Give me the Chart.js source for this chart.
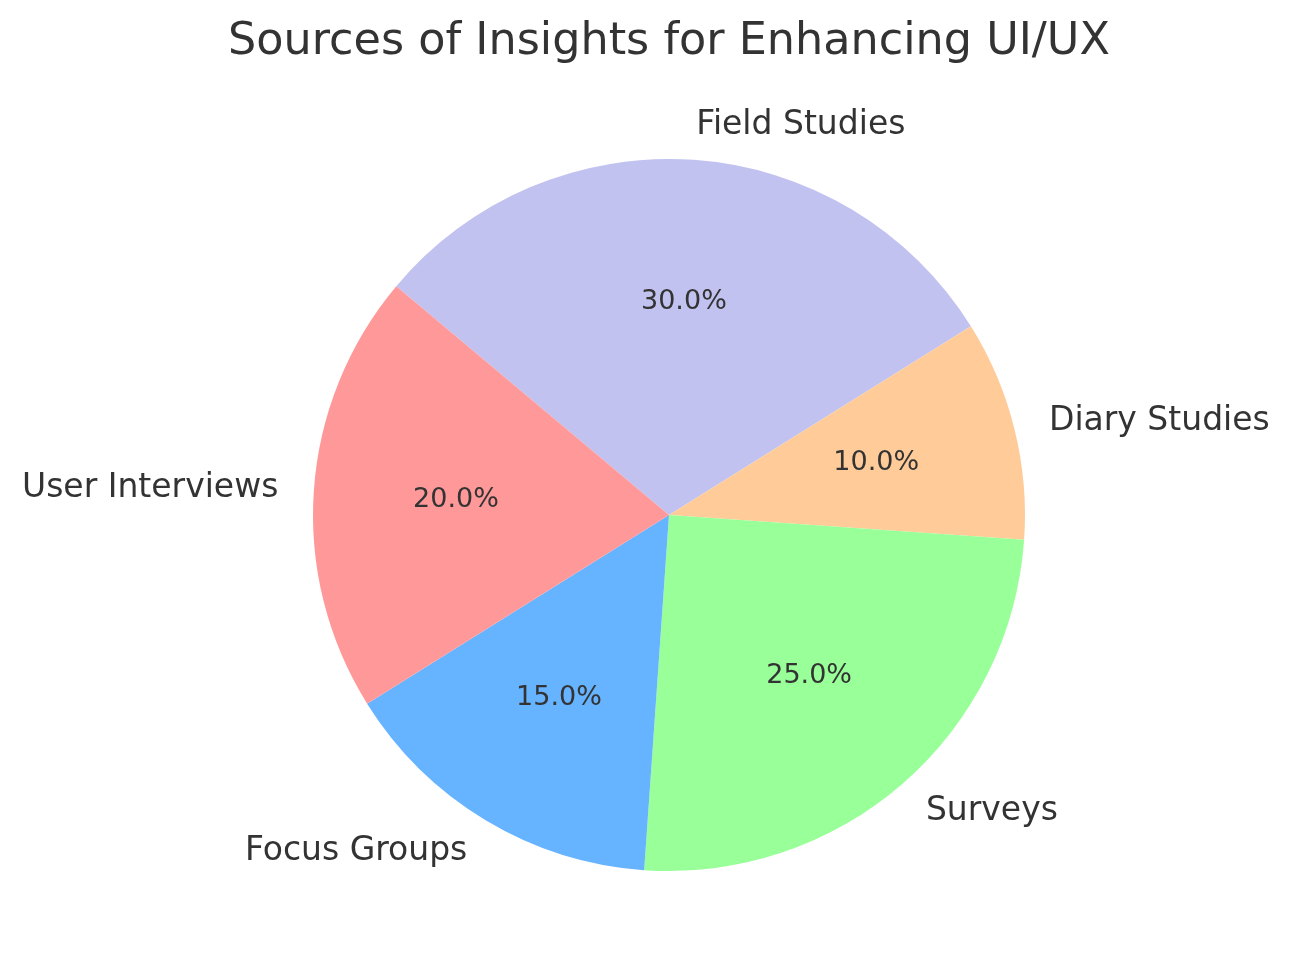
<!DOCTYPE html>
<html>
<head>
<meta charset="utf-8">
<script src="https://cdn.jsdelivr.net/npm/chart.js@4"></script>
<style>
  body { margin: 0; background: #ffffff; }
  #wrap { width: 1292px; height: 980px; }
</style>
</head>
<body>
<div id="wrap"><canvas id="pieChart"></canvas></div>
<script>
// Dados do gráfico (ordem original, sentido anti-horário como no matplotlib)
const categories = ['User Interviews', 'Focus Groups', 'Surveys', 'Diary Studies', 'Field Studies'];
const shares = [20, 15, 25, 10, 30];
const sliceColors = ['#ff9999', '#66b3ff', '#99ff99', '#ffcc99', '#c2c2f0'];

// Chart.js desenha no sentido horário, então invertemos a ordem
const labelsCw = categories.slice().reverse();
const sharesCw = shares.slice().reverse();
const colorsCw = sliceColors.slice().reverse();

const textColor = '#333333';

// Plugin para rótulos externos (1.1 r) e percentuais internos (0.6 r)
const pieLabels = {
    id: 'pieLabels',
    afterDatasetsDraw(chart) {
        const ctx = chart.ctx;
        const meta = chart.getDatasetMeta(0);
        const total = sharesCw.reduce((a, b) => a + b, 0);
        ctx.save();
        ctx.fillStyle = textColor;
        ctx.textBaseline = 'middle';
        meta.data.forEach((arc, i) => {
            const mid = (arc.startAngle + arc.endAngle) / 2;
            const r = arc.outerRadius;
            const cx = Math.cos(mid), cy = Math.sin(mid);
            // nome da categoria
            ctx.font = '33px "DejaVu Sans"';
            ctx.textAlign = cx > 0 ? 'left' : 'right';
            ctx.fillText(labelsCw[i], arc.x + cx * r * 1.1, arc.y + cy * r * 1.1 + 1);
            // percentual
            ctx.font = '27px "DejaVu Sans"';
            ctx.textAlign = 'center';
            const pct = (sharesCw[i] / total * 100).toFixed(1) + '%';
            ctx.fillText(pct, arc.x + cx * r * 0.6, arc.y + cy * r * 0.6);
        });
        ctx.restore();
    }
};

new Chart(document.getElementById('pieChart').getContext('2d'), {
    type: 'pie',
    data: {
        labels: labelsCw,
        datasets: [{
            data: sharesCw,
            backgroundColor: colorsCw,
            borderWidth: 0
        }]
    },
    options: {
        responsive: true,
        maintainAspectRatio: false,
        animation: false,
        events: [],
        rotation: -50,
        layout: { padding: { left: 46, right: 0, top: 0, bottom: 109 } },
        plugins: {
            legend: { display: false },
            tooltip: { enabled: false },
            title: {
                display: true,
                text: 'Sources of Insights for Enhancing UI/UX',
                color: textColor,
                font: { family: '"DejaVu Sans"', size: 44.5, weight: 'normal', lineHeight: 1.2 },
                padding: { top: 16, bottom: 89.6 }
            }
        }
    },
    plugins: [pieLabels]
});
</script>
</body>
</html>
